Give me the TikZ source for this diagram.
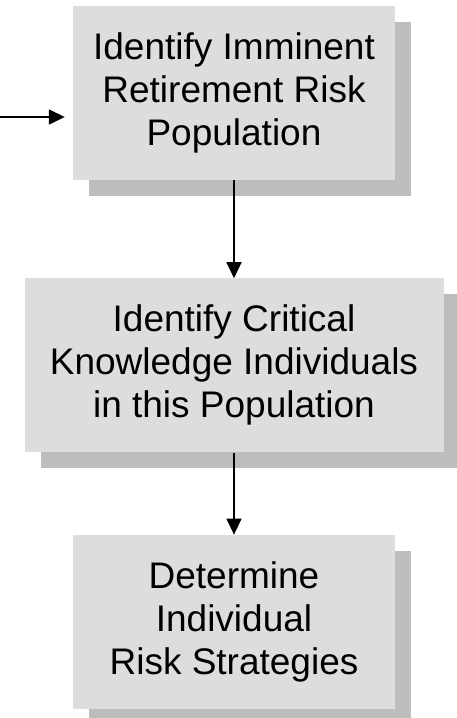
\documentclass[tikz,border=0pt]{standalone}
\usepackage{fontspec}
\setmainfont{Liberation Sans}
\usepackage{xcolor}
\usepackage{tikz}
\usetikzlibrary{positioning, arrows.meta, shadows}

\definecolor{boxgray}{HTML}{DDDDDD}
\definecolor{shadegray}{HTML}{BDBDBD}

\begin{document}
\begin{tikzpicture}[x=1pt, y=1pt,
        task/.style={fill=boxgray, minimum height=174pt, inner sep=0pt,
            align=center, font=\fontsize{37}{43}\selectfont,
            drop shadow={shadow xshift=16pt, shadow yshift=-16pt,
                fill=shadegray, opacity=1}},
        flow/.style={-{Triangle[length=16pt, width=15pt]}, line width=1.5pt}]
        \useasboundingbox (0,0) rectangle (456,-718);

        \node[task, minimum width=322pt] (pop) at (234,-93)
            {Identify Imminent\\Retirement Risk\\Population};
        \node[task, minimum width=419pt, below=98pt of pop] (know)
            {Identify Critical\\Knowledge Individuals\\in this Population};
        \node[task, minimum width=322pt, below=82pt of know] (strat)
            {Determine\\Individual\\Risk Strategies};

        \coordinate (in) at (0,-117);

        \draw[flow, shorten >=8pt] (in) -- (pop.west |- in);
        \draw[flow] (pop.south) -- (know.north);
        \draw[flow] (know.south) -- (strat.north);
\end{tikzpicture}
\end{document}
